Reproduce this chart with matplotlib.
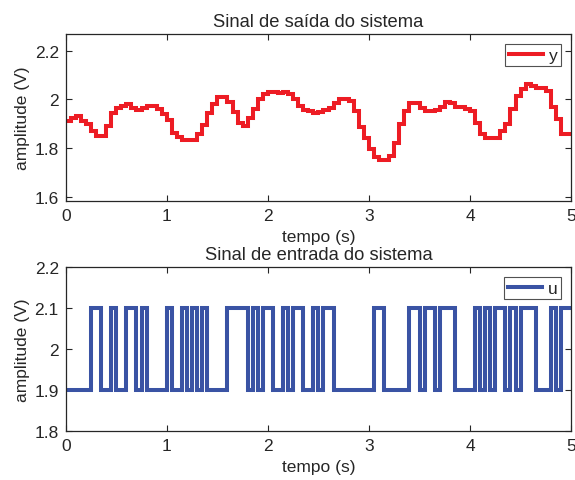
import numpy as np
import matplotlib
matplotlib.use("Agg")
import matplotlib.pyplot as plt
from matplotlib.ticker import FormatStrFormatter

plt.rcParams['font.family'] = ['Liberation Sans', 'DejaVu Sans']
plt.rcParams['font.size'] = 12.5
plt.rcParams['text.color'] = '#262626'
plt.rcParams['axes.labelcolor'] = '#262626'
plt.rcParams['xtick.color'] = '#262626'
plt.rcParams['ytick.color'] = '#262626'

# sample time 0.05 s, 100 samples
Ts = 0.05

# system output y (V)
y = [1.913, 1.925, 1.932, 1.913, 1.900, 1.872, 1.850, 1.850, 1.890, 1.945,
     1.965, 1.975, 1.983, 1.963, 1.955, 1.963, 1.972, 1.972, 1.960, 1.942,
     1.914, 1.862, 1.844, 1.833, 1.832, 1.835, 1.858, 1.895, 1.945, 1.980,
     2.010, 2.010, 1.990, 1.950, 1.905, 1.890, 1.925, 1.960, 2.000, 2.022,
     2.030, 2.030, 2.025, 2.030, 2.022, 2.003, 1.975, 1.955, 1.952, 1.945,
     1.948, 1.956, 1.965, 1.985, 2.000, 2.002, 1.993, 1.952, 1.885, 1.840,
     1.795, 1.765, 1.752, 1.752, 1.768, 1.820, 1.900, 1.952, 1.984, 1.984,
     1.963, 1.953, 1.953, 1.958, 1.968, 1.990, 1.985, 1.968, 1.968, 1.960,
     1.952, 1.903, 1.860, 1.841, 1.841, 1.841, 1.870, 1.900, 1.961, 2.014,
     2.041, 2.063, 2.055, 2.046, 2.046, 2.035, 1.970, 1.921, 1.860, 1.860]

# system input u (PRBS between 1.9 and 2.1 V)
u = [1.9, 1.9, 1.9, 1.9, 1.9, 2.1, 2.1, 1.9, 1.9, 2.1,
     1.9, 1.9, 2.1, 2.1, 1.9, 2.1, 1.9, 1.9, 1.9, 1.9,
     2.1, 1.9, 1.9, 2.1, 1.9, 2.1, 1.9, 2.1, 1.9, 1.9,
     1.9, 1.9, 2.1, 2.1, 2.1, 2.1, 1.9, 2.1, 1.9, 2.1,
     2.1, 1.9, 1.9, 2.1, 1.9, 2.1, 2.1, 1.9, 1.9, 2.1,
     1.9, 2.1, 2.1, 1.9, 1.9, 1.9, 1.9, 1.9, 1.9, 1.9,
     1.9, 2.1, 2.1, 1.9, 1.9, 1.9, 1.9, 1.9, 2.1, 2.1,
     1.9, 2.1, 2.1, 1.9, 2.1, 2.1, 2.1, 1.9, 1.9, 1.9,
     1.9, 2.1, 1.9, 2.1, 1.9, 2.1, 2.1, 1.9, 2.1, 1.9,
     2.1, 2.1, 2.1, 1.9, 1.9, 1.9, 2.1, 1.9, 2.1, 2.1]

t = np.arange(len(y) + 1) * Ts
y_plot = np.append(y, y[-1])
u_plot = np.append(u, u[-1])

red = '#ED1C24'
blue = '#3A53A4'

fig = plt.figure(figsize=(5.75, 4.81), dpi=100)
ax1 = fig.add_axes([0.1143, 0.5807, 0.8790, 0.3466])
ax2 = fig.add_axes([0.1143, 0.1019, 0.8790, 0.3410])


def style(ax):
    ax.tick_params(direction='in', length=4, width=0.8, top=True, right=True, pad=5)
    for s in ax.spines.values():
        s.set_color('#262626')
        s.set_linewidth(0.9)
    ax.set_xlim(0, 5)
    ax.set_xticks([0, 1, 2, 3, 4, 5])
    ax.yaxis.set_major_formatter(FormatStrFormatter('%g'))
    ax.set_xlabel('tempo (s)', labelpad=4.5)
    ax.set_ylabel('amplitude (V)', labelpad=3)


ax1.step(t, y_plot, where='post', color=red, linewidth=2.9, label='y',
         solid_joinstyle='miter')
style(ax1)
ax1.set_ylim(1.584, 2.269)
ax1.set_yticks([1.6, 1.8, 2.0, 2.2])
ax1.set_title('Sinal de saída do sistema', fontsize=13.2, pad=6)

ax2.step(t, u_plot, where='post', color=blue, linewidth=2.9, label='u',
         solid_joinstyle='miter')
style(ax2)
ax2.set_ylim(1.8, 2.2)
ax2.set_yticks([1.8, 1.9, 2.0, 2.1, 2.2])
ax2.set_title('Sinal de entrada do sistema', fontsize=13.2, pad=6)

for ax in (ax1, ax2):
    leg = ax.legend(loc='upper right', fancybox=False, borderpad=0.2,
                    handlelength=2.0, handletextpad=0.3, borderaxespad=0.6)
    leg.get_frame().set_edgecolor('#262626')
    leg.get_frame().set_linewidth(0.8)

fig.savefig('out.png', dpi=100)
